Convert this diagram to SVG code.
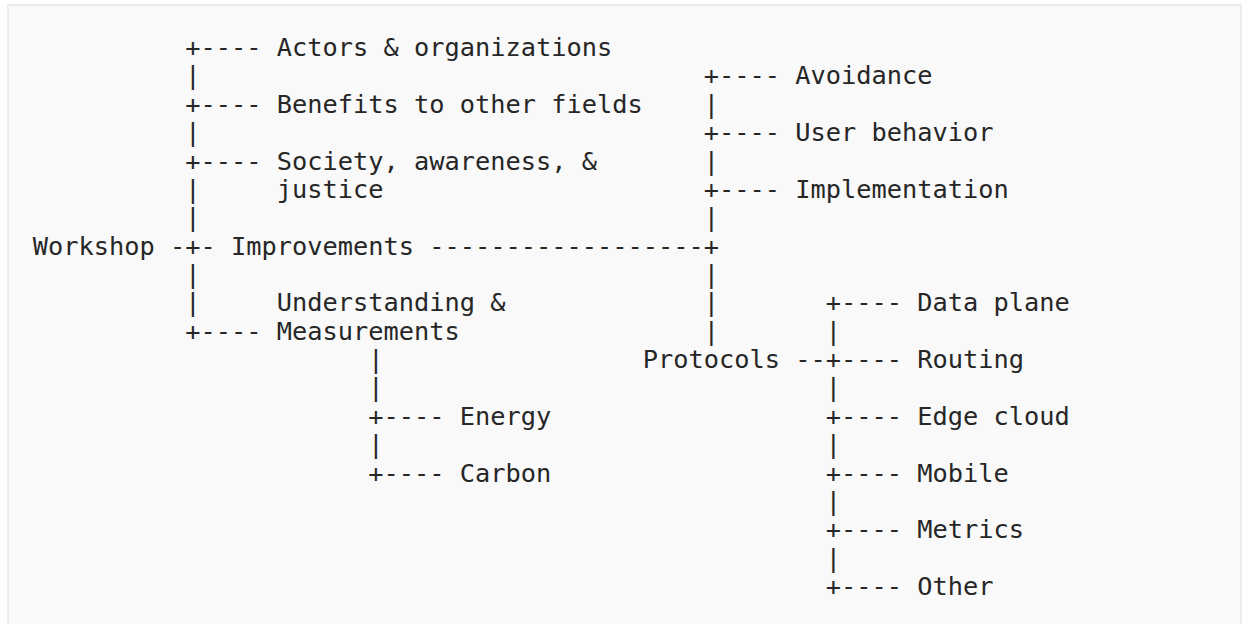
<svg xmlns="http://www.w3.org/2000/svg" width="1242" height="624" viewBox="0 0 1242 624">
<style>
text { font-family: "DejaVu Sans Mono", "Liberation Mono", monospace; font-size: 25.33px; fill: #262626; white-space: pre; }
</style>
<rect x="8" y="5" width="1233" height="630" fill="#f9f9f9" stroke="#ececec" stroke-width="2"/>
<g id="connectors">
<text x="185.2" y="56">+----</text>
<text x="185.2" y="84.4">|</text><text x="703.7" y="84.4">+----</text>
<text x="185.2" y="112.7">+----</text><text x="703.7" y="112.7">|</text>
<text x="185.2" y="141.1">|</text><text x="703.7" y="141.1">+----</text>
<text x="185.2" y="169.5">+----</text><text x="703.7" y="169.5">|</text>
<text x="185.2" y="197.9">|</text><text x="703.7" y="197.9">+----</text>
<text x="185.2" y="226.2">|</text><text x="703.7" y="226.2">|</text>
<text x="169.95" y="254.6">-+-</text><text x="429.2" y="254.6">------------------+</text>
<text x="185.2" y="283">|</text><text x="703.7" y="283">|</text>
<text x="185.2" y="311.3">|</text><text x="703.7" y="311.3">|</text><text x="825.7" y="311.3">+----</text>
<text x="185.2" y="339.7">+----</text><text x="703.7" y="339.7">|</text><text x="825.7" y="339.7">|</text>
<text x="368.2" y="368.1">|</text><text x="795.2" y="368.1">--+----</text>
<text x="368.2" y="396.4">|</text><text x="825.7" y="396.4">|</text>
<text x="368.2" y="424.8">+----</text><text x="825.7" y="424.8">+----</text>
<text x="368.2" y="453.2">|</text><text x="825.7" y="453.2">|</text>
<text x="368.2" y="481.6">+----</text><text x="825.7" y="481.6">+----</text>
<text x="825.7" y="509.9">|</text>
<text x="825.7" y="538.3">+----</text>
<text x="825.7" y="566.7">|</text>
<text x="825.7" y="595">+----</text>
</g>
<g id="workshop"><text x="32.7" y="254.6">Workshop</text></g>
<g id="improvements"><text x="230.95" y="254.6">Improvements</text></g>
<g id="actors"><text x="276.7" y="56">Actors &amp; organizations</text></g>
<g id="benefits"><text x="276.7" y="112.7">Benefits to other fields</text></g>
<g id="society"><text x="276.7" y="169.5">Society, awareness, &amp;</text><text x="276.7" y="197.9">justice</text></g>
<g id="understanding"><text x="276.7" y="311.3">Understanding &amp;</text><text x="276.7" y="339.7">Measurements</text></g>
<g id="energy"><text x="459.7" y="424.8">Energy</text></g>
<g id="carbon"><text x="459.7" y="481.6">Carbon</text></g>
<g id="avoidance"><text x="795.2" y="84.4">Avoidance</text></g>
<g id="user-behavior"><text x="795.2" y="141.1">User behavior</text></g>
<g id="implementation"><text x="795.2" y="197.9">Implementation</text></g>
<g id="protocols"><text x="642.7" y="368.1">Protocols</text></g>
<g id="data-plane"><text x="917.2" y="311.3">Data plane</text></g>
<g id="routing"><text x="917.2" y="368.1">Routing</text></g>
<g id="edge-cloud"><text x="917.2" y="424.8">Edge cloud</text></g>
<g id="mobile"><text x="917.2" y="481.6">Mobile</text></g>
<g id="metrics"><text x="917.2" y="538.3">Metrics</text></g>
<g id="other"><text x="917.2" y="595">Other</text></g>
</svg>
